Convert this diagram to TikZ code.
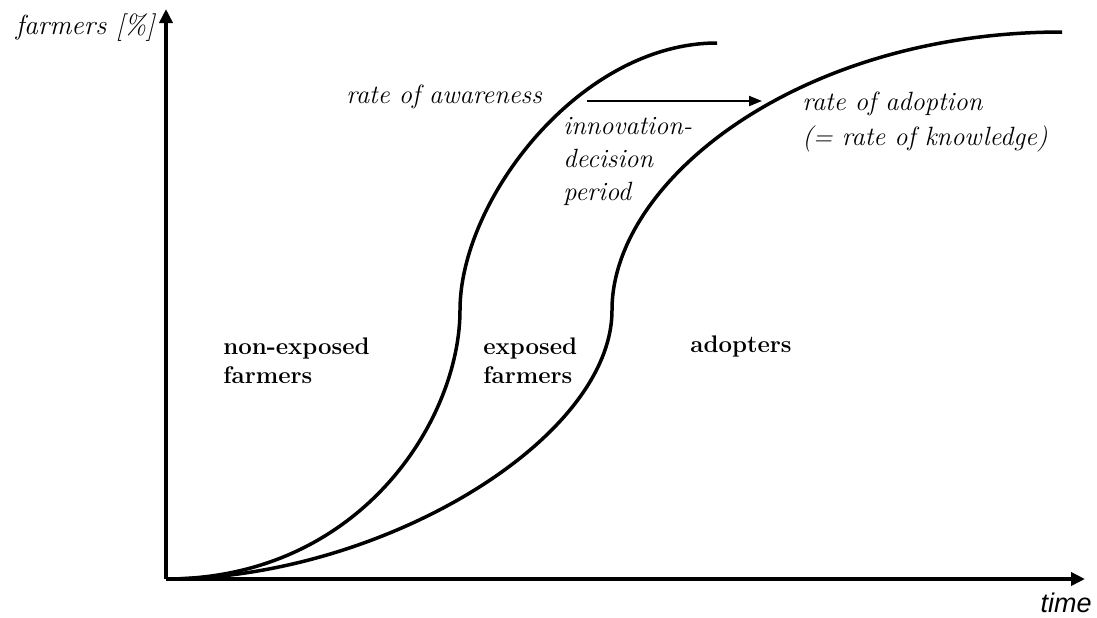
\documentclass[tikz,border=0pt]{standalone}
\usepackage{fontspec}
\newfontfamily\axisfont{Liberation Sans}
\usetikzlibrary{arrows.meta}

\begin{document}
\begin{tikzpicture}[x=0.5pt, y=-0.5pt,
  axis/.style={line width=2pt, -{Triangle[length=7pt,width=6.5pt]}},
  curve/.style={line width=1.75pt},
  lapse/.style={line width=1pt, -{Triangle[length=6.5pt,width=5pt]}},
  label/.style={font=\fontsize{13.2}{17.5}\selectfont\itshape, inner sep=0pt, anchor=west, align=left},
  group/.style={font=\fontsize{12}{14.5}\selectfont\bfseries, inner sep=0pt, anchor=west, align=left}]
    \useasboundingbox (0,0) rectangle (1097,617);

    % axes
    \coordinate (origin) at (166,579);
    \coordinate (ytop) at (166,9);
    \coordinate (xend) at (1085,579);
    \draw[axis] (origin) -- (ytop);
    \draw[axis] (origin) -- (xend);
    \node[label, font=\fontsize{13.8}{17}\selectfont\itshape, anchor=east] (ylabel) at (155,28) {farmers [\%]};
    \node[font=\fontsize{13.5}{16}\selectfont\axisfont\itshape, inner sep=0pt, anchor=east] (xlabel) at (1092,603) {time};

    % awareness and adoption curves
    \coordinate (awareMid) at (460,310);
    \coordinate (awareEnd) at (717,43);
    \coordinate (adoptMid) at (612,310);
    \coordinate (adoptEnd) at (1062,32);
    \draw[curve] (origin) .. controls (360,579) and (460,420) .. (awareMid)
                          .. controls (460,200) and (580,43) .. (awareEnd);
    \draw[curve] (origin) .. controls (380,579) and (612,440) .. (adoptMid)
                          .. controls (612,180) and (800,32) .. (adoptEnd);

    % decision period
    \coordinate (lapseStart) at (587,101);
    \coordinate (lapseEnd) at (762,101);
    \draw[lapse] (lapseStart) -- (lapseEnd);

    \node[label] (aware) at (346,97) {rate of awareness};
    \node[label, font=\fontsize{13.2}{16.5}\selectfont\itshape] (period) at (563,161) {innovation-\\decision\\period};
    \node[label] (adopt) at (802,122) {rate of adoption\\(= rate of knowledge)};

    \node[group] (nonexposed) at (223,361) {non-exposed\\farmers};
    \node[group] (exposed) at (483,361) {exposed\\farmers};
    \node[group, anchor=base west] (adopters) at (690,352) {adopters};
\end{tikzpicture}
\end{document}
